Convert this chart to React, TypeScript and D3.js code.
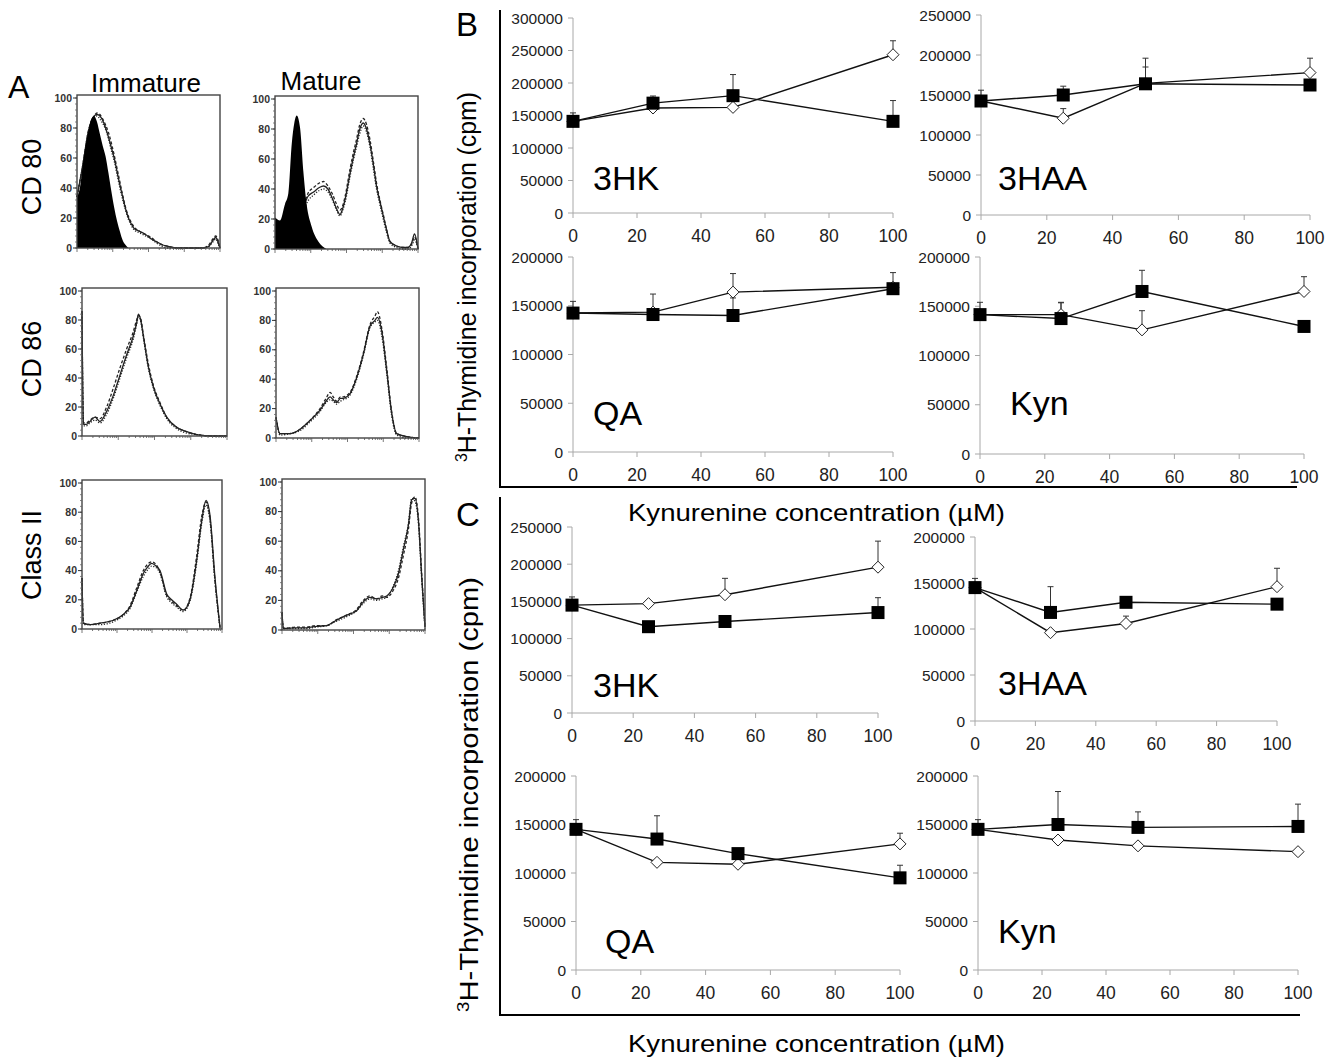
import React from 'react';
import * as d3 from 'd3';

const FONT = "'Liberation Sans', Arial, Helvetica, sans-serif";

// ---------- panel A: flow histograms (channel 0-100, % of max) ----------
const immCd80IsoCh = [0, 2, 4, 6, 8, 10, 12, 14, 16, 18, 20, 22, 24, 26, 28, 30, 32, 34, 36];
const immCd80Iso = [34, 40, 55, 68, 78, 86, 88, 84, 76, 68, 61, 50, 38, 27, 18, 11, 5, 2, 0];
const immCd80Ch = [0, 4, 8, 12, 14, 16, 18, 20, 22, 24, 26, 28, 30, 32, 34, 36, 38, 40, 44, 48, 52, 56, 60, 64, 70, 80, 88, 92, 95, 97, 99, 100];
const immCd80Solid = [34, 55, 78, 88, 89, 88, 85, 80, 74, 67, 60, 51, 42, 34, 26, 20, 16, 13, 11, 9, 6, 4, 2, 1, 0, 0, 0, 1, 5, 7, 3, 0];
const immCd80Dashed = [34, 55, 78, 88, 90, 89, 86, 82, 77, 70, 62, 53, 44, 35, 27, 21, 17, 14, 11, 9, 7, 4, 2, 1, 0, 0, 0, 2, 6, 8, 4, 0];
const immCd80Dotted = [34, 55, 78, 87, 88, 86, 83, 79, 73, 65, 58, 49, 40, 32, 25, 19, 15, 12, 10, 8, 6, 3, 1, 0, 0, 0, 0, 1, 4, 6, 2, 0];

const matCd80IsoCh = [0, 3.5, 7, 9.3, 11.7, 13.5, 15.2, 17.5, 19.8, 22.1, 25.6, 30.3, 36];
const matCd80Iso = [21, 19, 30, 37, 70, 84, 89, 81, 52, 30, 15, 5, 0];
const matCd80Ch = [0, 10, 20, 23, 27, 31, 34, 37, 40, 43, 45.5, 47, 49, 52.4, 55, 57, 59, 61.7, 64, 66.4, 69, 71, 73.5, 75.7, 78, 80.4, 85, 90, 93, 95.5, 97.6, 100];
const matCd80Solid = [8, 14, 28, 35, 38, 41, 42, 40, 34, 27, 23, 26, 33, 50, 62, 70, 79, 84, 80, 70, 55, 42, 31, 22, 13, 5, 2, 1, 1, 4, 10, 0];
const matCd80Dashed = [8, 14, 29, 37, 41, 44, 45, 42, 37, 30, 26, 28, 35, 53, 65, 73, 82, 87, 83, 73, 57, 44, 32, 23, 13, 5, 2, 1, 1, 3, 8, 0];
const matCd80Dotted = [8, 14, 26, 32, 36, 39, 40, 38, 33, 26, 22, 25, 31, 48, 60, 68, 76, 82, 78, 68, 52, 40, 29, 20, 11, 4, 1, 0, 0, 2, 6, 0];

const immCd86Ch = [0, 1, 3, 5.5, 9, 12.4, 17, 21.6, 26.2, 30.8, 35.4, 37.7, 38.9, 40.5, 42.3, 45.7, 49.2, 53.8, 58.4, 65.3, 72.2, 79, 90, 100];
const immCd86Solid = [86, 8, 8, 10, 13, 10, 17, 28, 42, 56, 69, 78, 84, 80, 69, 48, 34, 22, 13, 6, 3, 1, 0, 0];
const immCd86Dashed = [86, 9, 9, 11, 13, 12, 20, 33, 47, 60, 72, 80, 83, 81, 70, 50, 35, 23, 13, 6, 3, 1, 0, 0];
const immCd86Dotted = [86, 7, 7, 9, 11, 9, 15, 26, 40, 54, 67, 77, 82, 79, 68, 47, 33, 21, 12, 5, 2, 1, 0, 0];

const matCd86Ch = [0, 2.8, 9.8, 16.8, 23.8, 30.8, 35, 37.8, 40, 42.4, 45, 47.1, 49.5, 51.7, 56.4, 61.1, 65.7, 69.2, 70.9, 73.9, 77.4, 80.9, 84.4, 91.4, 100];
const matCd86Solid = [14, 3, 3, 6, 12, 19, 25, 28, 26, 24, 27, 27, 28, 30, 41, 57, 76, 80, 82, 73, 46, 17, 3, 1, 0];
const matCd86Dashed = [14, 3, 3, 6, 12, 20, 27, 31, 28, 25, 28, 28, 29, 31, 42, 58, 77, 83, 86, 75, 48, 18, 3, 1, 0];
const matCd86Dotted = [14, 2, 3, 5, 11, 18, 24, 26, 25, 23, 25, 26, 27, 29, 40, 56, 75, 79, 80, 70, 44, 15, 2, 0, 0];

const immMhcCh = [0, 1, 6, 12.9, 22.4, 29.5, 34.3, 39, 43.8, 46.5, 49.8, 53, 55.7, 60.5, 64, 67.6, 72.4, 77.1, 81.9, 85.5, 88.6, 91.4, 95, 98.6];
const immMhcSolid = [35, 4, 3, 4, 6, 10, 15, 26, 38, 42, 45, 43, 40, 24, 20, 17, 13, 20, 47, 74, 88, 78, 35, 1];
const immMhcDashed = [35, 4, 3, 4, 6, 10, 16, 28, 40, 44, 46, 44, 39, 23, 19, 16, 13, 21, 50, 77, 87, 76, 33, 1];
const immMhcDotted = [35, 3, 3, 3, 5, 9, 14, 25, 36, 40, 43, 42, 38, 22, 18, 15, 12, 19, 45, 72, 85, 74, 32, 0];

const matMhcCh = [0, 1, 10.3, 17.3, 24.2, 31.2, 38.2, 45.2, 52.2, 56.9, 61.5, 66.2, 70, 73.2, 77.9, 81.4, 84.8, 88.4, 90.7, 93, 95.4, 97.7, 100];
const matMhcSolid = [12, 1, 1.5, 1.5, 2.5, 3, 6.7, 10, 13, 19, 22, 21, 22, 23, 29, 38, 54, 71, 88, 89, 74, 36, 2];
const matMhcDashed = [12, 1, 2, 2, 3, 3, 7, 10, 14, 20, 23, 21, 23, 22, 27, 35, 50, 68, 86, 90, 76, 38, 2];
const matMhcDotted = [12, 1, 1, 1, 2, 3, 6, 9, 13, 18, 21, 20, 21, 22, 30, 40, 56, 72, 89, 87, 72, 34, 1];

const histTicks = [0, 20, 40, 60, 80, 100];

// ---------- panels B and C: 3H-thymidine incorporation (cpm) ----------
const conc = [0, 25, 50, 100];
const xTicks = [0, 20, 40, 60, 80, 100];

const b3hkFilled = [141000, 169000, 180500, 141000];
const b3hkFilledErr = [13000, 11000, 32500, 32000];
const b3hkOpen = [141000, 161500, 162500, 243500];
const b3hkOpenErr = [0, 0, 0, 21500];

const b3haaFilled = [142500, 150000, 164000, 162500];
const b3haaFilledErr = [13500, 11000, 21000, 0];
const b3haaOpen = [142500, 121000, 164500, 178000];
const b3haaOpenErr = [0, 12000, 31500, 18000];

const bQaFilled = [142500, 141000, 140000, 167500];
const bQaFilledErr = [12000, 0, 18000, 0];
const bQaOpen = [142500, 143500, 164000, 169000];
const bQaOpenErr = [0, 18500, 19000, 15000];

const bKynFilled = [141500, 137500, 165000, 129500];
const bKynFilledErr = [12500, 16000, 21500, 0];
const bKynOpen = [141500, 141500, 126000, 165000];
const bKynOpenErr = [0, 12500, 19500, 15000];

const c3hkFilled = [145000, 116000, 123000, 135000];
const c3hkFilledErr = [11000, 0, 4000, 20000];
const c3hkOpen = [145000, 147000, 159000, 196000];
const c3hkOpenErr = [0, 0, 22000, 35000];

const c3haaFilled = [145000, 118000, 129000, 127000];
const c3haaFilledErr = [10000, 28000, 0, 0];
const c3haaOpen = [145000, 96000, 106000, 146000];
const c3haaOpenErr = [0, 0, 8000, 20000];

const cQaFilled = [145000, 135000, 120000, 95000];
const cQaFilledErr = [10000, 24000, 0, 13000];
const cQaOpen = [145000, 111000, 109000, 130000];
const cQaOpenErr = [0, 0, 0, 11000];

const cKynFilled = [145000, 150000, 147000, 148000];
const cKynFilledErr = [10000, 34000, 16000, 23000];
const cKynOpen = [145000, 134000, 128000, 122000];
const cKynOpenErr = [0, 0, 0, 0];

type Curve = { vals: number[]; dash?: string };

function Histogram({ box, ch, curves, isoCh, iso }: { box: number[]; ch: number[]; curves: Curve[]; isoCh?: number[]; iso?: number[] }) {
  const [l, t, r, b] = box;
  const x = d3.scaleLinear().domain([0, 100]).range([l, r]);
  const y = d3.scaleLinear().domain([0, 100]).range([b, t + 3]);
  const logX = d3.scaleLog().domain([1, 10000]).range([l, r]);
  const line = d3.line<[number, number]>().x(d => x(d[0])).y(d => y(d[1])).curve(d3.curveMonotoneX);
  const area = d3.area<[number, number]>().x(d => x(d[0])).y0(b).y1(d => y(d[1])).curve(d3.curveMonotoneX);
  const minor = d3.range(0, 101, 4);
  return (
    <g>
      {curves.map((cv, k) => (
        <path key={k} d={line(ch.map((c, i) => [c, cv.vals[i]] as [number, number])) || ''}
          fill="none" stroke="#222" strokeWidth={1.3} strokeDasharray={cv.dash} />
      ))}
      {isoCh && iso && (
        <path d={area(isoCh.map((c, i) => [c, iso[i]] as [number, number])) || ''} fill="#000" />
      )}
      <rect x={l} y={t} width={r - l} height={b - t} fill="none" stroke="#444" strokeWidth={1.4} />
      {minor.map(v => (
        <line key={'m' + v} x1={l - 2} x2={l} y1={y(v)} y2={y(v)} stroke="#666" strokeWidth={0.8} />
      ))}
      {histTicks.map(v => (
        <g key={v}>
          <line x1={l - 4} x2={l} y1={y(v)} y2={y(v)} stroke="#333" strokeWidth={1} />
          <text x={l - 5} y={y(v) + 3.5} textAnchor="end" fontSize={10.5} fontWeight="bold" fill="#333" fontFamily={FONT}>{v}</text>
        </g>
      ))}
      {logX.ticks().map((v, i) => {
        const major = Math.abs(Math.log10(v) - Math.round(Math.log10(v))) < 1e-9;
        return <line key={'x' + i} x1={logX(v)} x2={logX(v)} y1={b} y2={b + (major ? 4 : 2)} stroke="#555" strokeWidth={0.8} />;
      })}
    </g>
  );
}

type PanelProps = {
  x0: number; x1: number; yBase: number; yTop: number; yMax: number;
  name: string; labelX: number; labelY: number;
  filled: number[]; filledErr: number[]; open: number[]; openErr: number[];
};

function LinePanel(p: PanelProps) {
  const x = d3.scaleLinear().domain([0, 100]).range([p.x0, p.x1]);
  const y = d3.scaleLinear().domain([0, p.yMax]).range([p.yBase, p.yTop]);
  const yTicks = d3.range(0, p.yMax + 1, 50000);
  const line = d3.line<number>().x((_, i) => x(conc[i])).y(d => y(d));
  const errBars = (vals: number[], errs: number[], key: string) =>
    vals.map((v, i) => errs[i] > 0 ? (
      <g key={key + i}>
        <line x1={x(conc[i])} x2={x(conc[i])} y1={y(v)} y2={y(v + errs[i])} stroke="#333" strokeWidth={1} />
        <line x1={x(conc[i]) - 3} x2={x(conc[i]) + 3} y1={y(v + errs[i])} y2={y(v + errs[i])} stroke="#333" strokeWidth={1} />
      </g>
    ) : null);
  return (
    <g fontFamily={FONT}>
      <line x1={p.x0} x2={p.x0} y1={y(0)} y2={y(p.yMax)} stroke="#a8a8a8" strokeWidth={1} />
      <line x1={p.x0} x2={p.x1} y1={y(0)} y2={y(0)} stroke="#a8a8a8" strokeWidth={1} />
      {yTicks.map(v => (
        <g key={'y' + v}>
          <line x1={p.x0 - 5} x2={p.x0} y1={y(v)} y2={y(v)} stroke="#a8a8a8" strokeWidth={1} />
          <text x={p.x0 - 10} y={y(v) + 5.5} textAnchor="end" fontSize={15.5} fill="#222">{v}</text>
        </g>
      ))}
      {xTicks.map(v => (
        <g key={'x' + v}>
          <line x1={x(v)} x2={x(v)} y1={y(0)} y2={y(0) + 5} stroke="#a8a8a8" strokeWidth={1} />
          <text x={x(v)} y={y(0) + 29} textAnchor="middle" fontSize={17.5} fill="#222">{v}</text>
        </g>
      ))}
      {errBars(p.open, p.openErr, 'eo')}
      {errBars(p.filled, p.filledErr, 'ef')}
      <path d={line(p.open) || ''} fill="none" stroke="#111" strokeWidth={1.4} />
      <path d={line(p.filled) || ''} fill="none" stroke="#111" strokeWidth={1.4} />
      {p.open.map((v, i) => (
        <path key={'o' + i} d={`M${x(conc[i])},${y(v) - 6}l6,6l-6,6l-6,-6z`} fill="#fff" stroke="#222" strokeWidth={1} />
      ))}
      {p.filled.map((v, i) => (
        <rect key={'f' + i} x={x(conc[i]) - 6.5} y={y(v) - 6.5} width={13} height={13} fill="#000" />
      ))}
      <text x={p.labelX} y={p.labelY} fontSize={34} fill="#000">{p.name}</text>
    </g>
  );
}

function YTitle({ x, y0, y1 }: { x: number; y0: number; y1: number }) {
  const cy = (y0 + y1) / 2;
  return (
    <text transform={`translate(${x},${cy}) rotate(-90)`} textAnchor="middle" fontFamily={FONT} fontSize={25}
      textLength={y1 - y0} lengthAdjust="spacingAndGlyphs" fill="#000">
      <tspan fontSize={16} dy={-9}>3</tspan>
      <tspan dy={9}>H-Thymidine incorporation (cpm)</tspan>
    </text>
  );
}

export default function App() {
  const S = '3 2';
  const D = '1.2 1.6';
  return (
    <svg width={1338} height={1062} style={{ position: 'absolute', left: 0, top: 0, background: '#fff' }}>
      {/* panel A */}
      <g fontFamily={FONT} fill="#000">
        <text x={8} y={98} fontSize={32}>A</text>
        <text x={146} y={92} fontSize={26} textAnchor="middle">Immature</text>
        <text x={321} y={90} fontSize={26} textAnchor="middle">Mature</text>
        <text transform="translate(41,177) rotate(-90)" fontSize={27} textAnchor="middle">CD 80</text>
        <text transform="translate(41,359) rotate(-90)" fontSize={27} textAnchor="middle">CD 86</text>
        <text transform="translate(41,555) rotate(-90)" fontSize={27} textAnchor="middle">Class II</text>
      </g>
      <Histogram box={[77, 95, 220, 248]} ch={immCd80Ch} isoCh={immCd80IsoCh} iso={immCd80Iso}
        curves={[{ vals: immCd80Solid }, { vals: immCd80Dashed, dash: S }, { vals: immCd80Dotted, dash: D }]} />
      <Histogram box={[275, 96, 418, 249]} ch={matCd80Ch} isoCh={matCd80IsoCh} iso={matCd80Iso}
        curves={[{ vals: matCd80Solid }, { vals: matCd80Dashed, dash: S }, { vals: matCd80Dotted, dash: D }]} />
      <Histogram box={[82, 288, 227, 436]} ch={immCd86Ch}
        curves={[{ vals: immCd86Solid }, { vals: immCd86Dashed, dash: S }, { vals: immCd86Dotted, dash: D }]} />
      <Histogram box={[276, 288, 419, 438]} ch={matCd86Ch}
        curves={[{ vals: matCd86Solid }, { vals: matCd86Dashed, dash: S }, { vals: matCd86Dotted, dash: D }]} />
      <Histogram box={[82, 480, 222, 629]} ch={immMhcCh}
        curves={[{ vals: immMhcSolid }, { vals: immMhcDashed, dash: S }, { vals: immMhcDotted, dash: D }]} />
      <Histogram box={[282, 479, 425, 630]} ch={matMhcCh}
        curves={[{ vals: matMhcSolid }, { vals: matMhcDashed, dash: S }, { vals: matMhcDotted, dash: D }]} />

      {/* panels B and C frame */}
      <g fontFamily={FONT} fill="#000">
        <text x={456} y={36} fontSize={33}>B</text>
        <text x={456} y={526} fontSize={33}>C</text>
      </g>
      <path d="M500,10V487H1297" fill="none" stroke="#000" strokeWidth={2} />
      <path d="M500,497V1015H1300" fill="none" stroke="#000" strokeWidth={2} />
      <YTitle x={476} y0={92} y1={462} />
      <YTitle x={478} y0={577} y1={1012} />
      <text x={628} y={521} fontFamily={FONT} fontSize={24} textLength={377} lengthAdjust="spacingAndGlyphs">Kynurenine concentration (µM)</text>
      <text x={628} y={1052} fontFamily={FONT} fontSize={24} textLength={377} lengthAdjust="spacingAndGlyphs">Kynurenine concentration (µM)</text>

      <LinePanel x0={573} x1={893} yBase={213} yTop={18} yMax={300000} name="3HK" labelX={593} labelY={190}
        filled={b3hkFilled} filledErr={b3hkFilledErr} open={b3hkOpen} openErr={b3hkOpenErr} />
      <LinePanel x0={981} x1={1310} yBase={215} yTop={15} yMax={250000} name="3HAA" labelX={998} labelY={190}
        filled={b3haaFilled} filledErr={b3haaFilledErr} open={b3haaOpen} openErr={b3haaOpenErr} />
      <LinePanel x0={573} x1={893} yBase={452} yTop={257} yMax={200000} name="QA" labelX={593} labelY={425}
        filled={bQaFilled} filledErr={bQaFilledErr} open={bQaOpen} openErr={bQaOpenErr} />
      <LinePanel x0={980} x1={1304} yBase={454} yTop={257} yMax={200000} name="Kyn" labelX={1010} labelY={415}
        filled={bKynFilled} filledErr={bKynFilledErr} open={bKynOpen} openErr={bKynOpenErr} />

      <LinePanel x0={572} x1={878} yBase={713} yTop={527} yMax={250000} name="3HK" labelX={593} labelY={697}
        filled={c3hkFilled} filledErr={c3hkFilledErr} open={c3hkOpen} openErr={c3hkOpenErr} />
      <LinePanel x0={975} x1={1277} yBase={721} yTop={537} yMax={200000} name="3HAA" labelX={998} labelY={695}
        filled={c3haaFilled} filledErr={c3haaFilledErr} open={c3haaOpen} openErr={c3haaOpenErr} />
      <LinePanel x0={576} x1={900} yBase={970} yTop={776} yMax={200000} name="QA" labelX={605} labelY={953}
        filled={cQaFilled} filledErr={cQaFilledErr} open={cQaOpen} openErr={cQaOpenErr} />
      <LinePanel x0={978} x1={1298} yBase={970} yTop={776} yMax={200000} name="Kyn" labelX={998} labelY={943}
        filled={cKynFilled} filledErr={cKynFilledErr} open={cKynOpen} openErr={cKynOpenErr} />
    </svg>
  );
}
